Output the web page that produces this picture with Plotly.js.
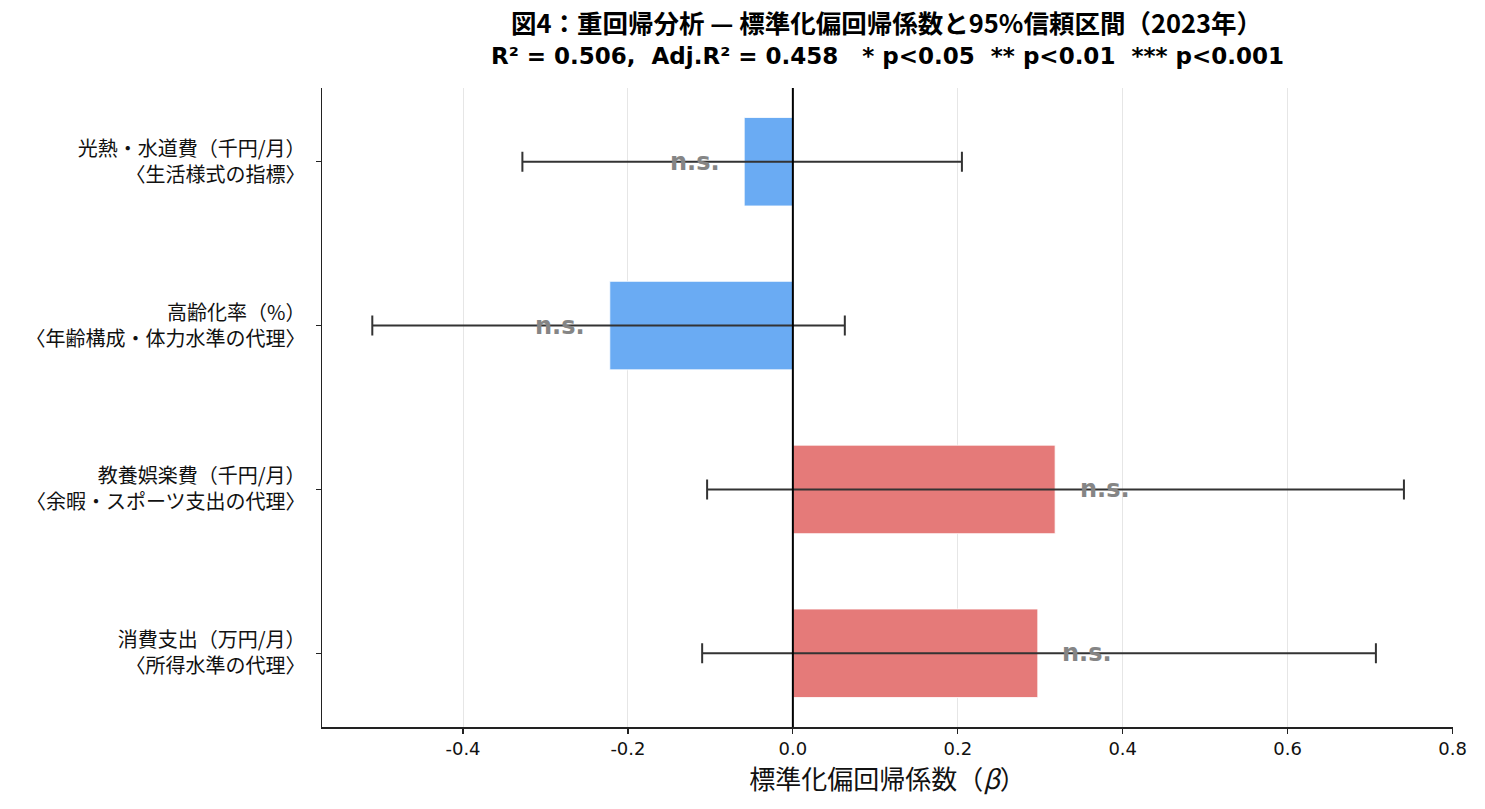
<!DOCTYPE html>
<html>
<head>
<meta charset="utf-8">
<script src="https://cdn.plot.ly/plotly-3.0.1.min.js"></script>
<style>html,body{margin:0;padding:0;background:#fff;}#chart{width:1485px;height:809px;}</style>
</head>
<body>
<div id="chart"></div>
<script>
const categories = [
  "光熱・水道費（千円/月）<br>〈生活様式の指標〉",
  "高齢化率（%）<br>〈年齢構成・体力水準の代理〉",
  "教養娯楽費（千円/月）<br>〈余暇・スポーツ支出の代理〉",
  "消費支出（万円/月）<br>〈所得水準の代理〉"
];
const beta = [-0.059, -0.222, 0.318, 0.297];
const ciLow = [-0.328, -0.510, -0.104, -0.110];
const ciHigh = [0.205, 0.063, 0.741, 0.707];
const sigLabels = ["n.s.", "n.s.", "n.s.", "n.s."];
const xTicks = [-0.4, -0.2, 0.0, 0.2, 0.4, 0.6, 0.8];
const titleLine1 = '図4：重回帰分析 — 標準化偏回帰係数と95%信頼区間（2023年）';
const titleLine2 = 'R² = 0.506,\u00A0 Adj.R² = 0.458\u00A0\u00A0 * p<0.05\u00A0 ** p<0.01\u00A0 *** p<0.001';

const FONT = '"Noto Sans CJK JP", "Noto Sans", sans-serif';
const LATIN = '"DejaVu Sans", "Liberation Sans", sans-serif';
const colors = beta.map(b => b < 0 ? '#6aabf3' : '#e57a79');

const trace = {
  type: 'bar',
  orientation: 'h',
  y: categories,
  x: beta,
  width: 0.54,
  marker: {color: colors, line: {color: '#ffffff', width: 0.8}},
  error_x: {
    type: 'data',
    symmetric: false,
    array: beta.map((b, i) => ciHigh[i] - b),
    arrayminus: beta.map((b, i) => b - ciLow[i]),
    color: '#333333',
    thickness: 2,
    width: 10
  },
  hoverinfo: 'x+y'
};

const annotations = beta.map((b, i) => ({
  x: b < 0 ? b - 0.06 : b + 0.06,
  y: categories[i],
  xref: 'x', yref: 'y',
  text: '<b>' + sigLabels[i] + '</b>',
  showarrow: false,
  xanchor: 'center', yanchor: 'middle',
  yshift: 0,
  font: {family: LATIN, size: 24, color: '#858585'}
}));
annotations.push({
  xref: 'paper', yref: 'paper',
  x: 0.5, y: 1 + (88 - 56) / 639,
  xanchor: 'center', yanchor: 'middle',
  showarrow: false,
  text: '<b>' + titleLine2 + '</b>',
  font: {family: LATIN, size: 23, color: '#000000'}
});

const layout = {
  width: 1485, height: 809,
  margin: {l: 322, r: 32, t: 88, b: 82},
  paper_bgcolor: '#ffffff', plot_bgcolor: '#ffffff',
  font: {family: FONT, color: '#111111'},
  showlegend: false,
  bargap: 0,
  title: {
    text: '<b>' + titleLine1 + '</b>',
    font: {family: FONT, size: 25.5, color: '#000000'},
    x: 0.597, xanchor: 'center',
    y: 1 - 24 / 809, yanchor: 'middle'
  },
  xaxis: {
    range: [-0.571, 0.8005],
    tickvals: xTicks,
    ticktext: xTicks.map(v => v.toFixed(1)),
    showgrid: true, gridcolor: '#e6e6e6', gridwidth: 1,
    zeroline: false,
    showline: true, linecolor: '#222222', linewidth: 1.5,
    ticks: 'outside', ticklen: 5, tickwidth: 1.2, tickcolor: '#222222',
    tickfont: {family: LATIN, size: 18, color: '#111111'},
    title: {text: '標準化偏回帰係数（<i>β</i>）', font: {family: FONT, size: 26, color: '#111111'}, standoff: 4},
    fixedrange: true
  },
  yaxis: {
    type: 'category',
    range: [3.45, -0.45],
    showgrid: false, zeroline: false,
    showline: true, linecolor: '#222222', linewidth: 1.5,
    ticks: 'outside', ticklen: 5, tickwidth: 1.2, tickcolor: '#222222',
    tickfont: {family: FONT, size: 20, color: '#111111'},
    ticklabelstandoff: 6,
    fixedrange: true
  },
  shapes: [{
    type: 'line', xref: 'x', yref: 'paper',
    x0: 0, x1: 0, y0: 0, y1: 1,
    line: {color: '#000000', width: 2},
    layer: 'above'
  }],
  annotations: annotations
};

Plotly.newPlot('chart', [trace], layout, {displayModeBar: false, staticPlot: true});
</script>
</body>
</html>
